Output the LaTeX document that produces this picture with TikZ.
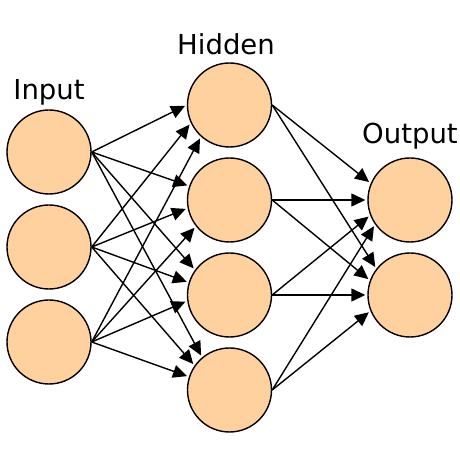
\documentclass[tikz,border=0pt]{standalone}
\usepackage{fontspec}
\setmainfont{DejaVu Sans}
\usetikzlibrary{arrows.meta, positioning}
\definecolor{neuronpeach}{RGB}{255,209,158}

\begin{document}
\begin{tikzpicture}[
    x=1pt, y=1pt,
    node distance=9.6pt,
    neuron/.style={circle, draw, line width=1.4pt, fill=neuronpeach, minimum size=84pt, inner sep=0pt},
    layer/.style={font=\fontsize{27.5}{32}\selectfont, inner sep=0pt, anchor=base},
    arrow/.style={-{Triangle[length=14pt, width=13pt]}, line width=1.4pt, shorten >=2pt}
]
\useasboundingbox (0,0) rectangle (460,460);
\node[neuron] (i1) at (49,308) {};
\node[neuron, below=of i1] (i2) {};
\node[neuron, below=of i2] (i3) {};
\node[neuron] (h1) at (229.5,355) {};
\node[neuron, below=of h1] (h2) {};
\node[neuron, below=of h2] (h3) {};
\node[neuron, below=of h3] (h4) {};
\node[neuron, right=95.1pt of h2] (o1) {};
\node[neuron, below=of o1] (o2) {};
\node[layer] (inputlabel) at (49,360) {Input};
\node[layer] (hiddenlabel) at (226,405) {Hidden};
\node[layer] (outputlabel) at (410,316) {Output};

\draw[arrow] (i1.east) -- (h1.180);
\draw[arrow] (i1.east) -- (h2.161);
\draw[arrow] (i1.east) -- (h3.144);
\draw[arrow] (i1.east) -- (h4.130);
\draw[arrow] (i2.east) -- (h1.205);
\draw[arrow] (i2.east) -- (h2.191);
\draw[arrow] (i2.east) -- (h3.163);
\draw[arrow] (i2.east) -- (h4.145);
\draw[arrow] (i3.east) -- (h1.228);
\draw[arrow] (i3.east) -- (h2.218);
\draw[arrow] (i3.east) -- (h3.188);
\draw[arrow] (i3.east) -- (h4.162);
\draw[arrow] (h1.east) -- (o1.157);
\draw[arrow] (h1.east) -- (o2.142);
\draw[arrow] (h2.east) -- (o1.180);
\draw[arrow] (h2.east) -- (o2.160);
\draw[arrow] (h3.east) -- (o1.201);
\draw[arrow] (h3.east) -- (o2.180);
\draw[arrow] (h4.east) -- (o1.215);
\draw[arrow] (h4.east) -- (o2.202);
\end{tikzpicture}
\end{document}
